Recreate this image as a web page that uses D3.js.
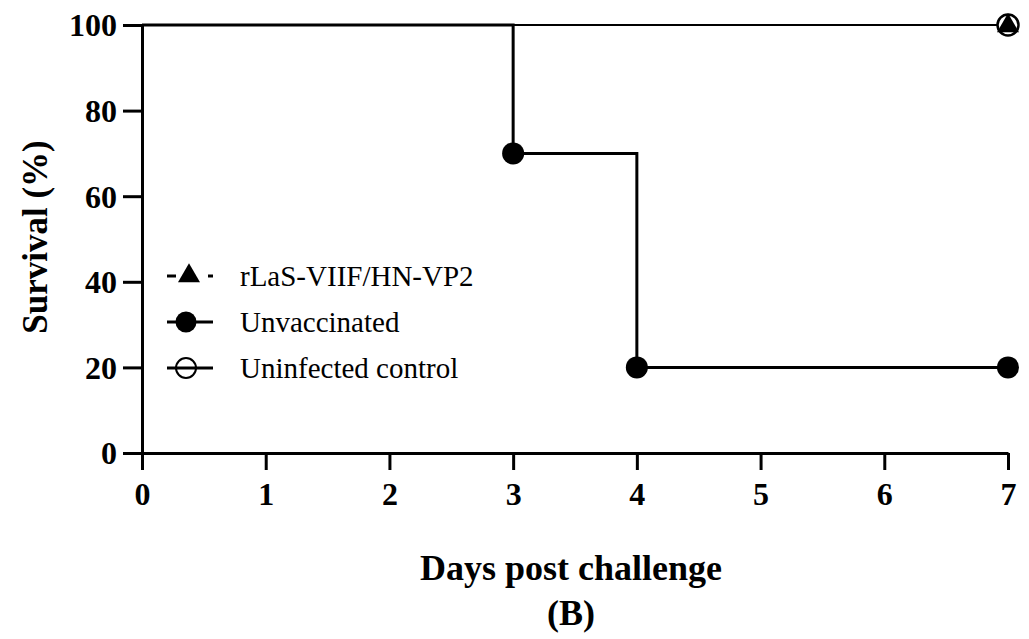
<!DOCTYPE html>
<html>
<head>
<meta charset="utf-8">
<script src="https://cdn.jsdelivr.net/npm/d3@7"></script>
<style>
  body { margin: 0; background: #fff; }
  svg { display: block; }
</style>
</head>
<body>
<svg id="chart"></svg>
<script>
// survival data (step curves)
var days = [0, 1, 2, 3, 4, 5, 6, 7];
var yTicks = [0, 20, 40, 60, 80, 100];
var seriesNames = ["rLaS-VIIF/HN-VP2", "Unvaccinated", "Uninfected control"];
var vaccDays = [0, 7], vaccSurv = [100, 100];
var unvDays = [0, 3, 4, 7], unvSurv = [100, 70, 20, 20];
var ctrlDays = [0, 7], ctrlSurv = [100, 100];
// days where a symbol is drawn
var vaccMarks = [7], unvMarks = [3, 4, 7], ctrlMarks = [7];

var svgWidth = 1029, svgHeight = 639;
var margin = { top: 25, right: 21, bottom: 186, left: 142 };
var width = svgWidth - margin.left - margin.right;
var height = svgHeight - margin.top - margin.bottom;

var svg = d3.select("#chart").attr("width", svgWidth).attr("height", svgHeight);
var g = svg.append("g").attr("transform", "translate(" + margin.left + "," + margin.top + ")");

var x = d3.scaleLinear().domain([0, 7]).range([0, width]);
var y = d3.scaleLinear().domain([0, 100]).range([height, 0]);

function pts(ds, vs) { return ds.map(function(d, i) { return { day: d, value: vs[i] }; }); }
function markPts(ds, vs, marks) {
  return marks.map(function(m) {
    var idx = d3.bisectRight(ds, m) - 1;
    return { day: m, value: vs[idx] };
  });
}

var line = d3.line().curve(d3.curveStepAfter)
  .x(function(d) { return x(d.day); })
  .y(function(d) { return y(d.value); });

// axes
var xAxis = g.append("g").attr("transform", "translate(0," + height + ")")
  .call(d3.axisBottom(x).tickValues(days).tickFormat(d3.format("d")).tickSize(17).tickSizeOuter(0));
var yAxis = g.append("g")
  .call(d3.axisLeft(y).tickValues(yTicks).tickSize(19).tickSizeOuter(0));

[xAxis, yAxis].forEach(function(a) {
  a.select(".domain").attr("stroke", "#000").attr("stroke-width", 3);
  a.selectAll(".tick line").attr("stroke", "#000").attr("stroke-width", 3);
  a.selectAll(".tick text").attr("fill", "#000")
    .style("font-family", "'Liberation Serif', serif")
    .style("font-weight", "bold").style("font-size", "32px");
});
xAxis.selectAll(".tick text").attr("dy", "0.95em").attr("y", 22);
yAxis.selectAll(".tick text").attr("x", -25).attr("dy", "0.34em");

// lines
g.append("path").datum(pts(unvDays, unvSurv))
  .attr("fill", "none").attr("stroke", "#000").attr("stroke-width", 3)
  .attr("d", line);
g.append("path").datum(pts(vaccDays, vaccSurv))
  .attr("fill", "none").attr("stroke", "#000").attr("stroke-width", 2)
  .attr("d", line);
g.append("path").datum(pts(ctrlDays, ctrlSurv))
  .attr("fill", "none").attr("stroke", "#000").attr("stroke-width", 2)
  .attr("d", line);

var tri = d3.symbol().type(d3.symbolTriangle).size(210);

// markers
g.selectAll(".unv").data(markPts(unvDays, unvSurv, unvMarks)).enter().append("circle")
  .attr("cx", function(d) { return x(d.day); })
  .attr("cy", function(d) { return y(d.value); })
  .attr("r", 11).attr("fill", "#000");
g.selectAll(".ctrl").data(markPts(ctrlDays, ctrlSurv, ctrlMarks)).enter().append("circle")
  .attr("cx", function(d) { return x(d.day); })
  .attr("cy", function(d) { return y(d.value); })
  .attr("r", 10.5).attr("fill", "#fff").attr("stroke", "#000").attr("stroke-width", 2.5);
g.selectAll(".vacc").data(markPts(vaccDays, vaccSurv, vaccMarks)).enter().append("path")
  .attr("transform", function(d) { return "translate(" + x(d.day) + "," + (y(d.value) + 1) + ")"; })
  .attr("d", tri).attr("fill", "#000");

// legend
var legend = svg.append("g").attr("transform", "translate(167,276)");
var rowGap = 46;
seriesNames.forEach(function(name, i) {
  var row = legend.append("g").attr("transform", "translate(0," + (i * rowGap) + ")");
  if (i === 0) {
    row.append("line").attr("x1", 0).attr("x2", 9).attr("y1", 0).attr("y2", 0)
      .attr("stroke", "#000").attr("stroke-width", 3);
    row.append("line").attr("x1", 41).attr("x2", 46).attr("y1", 0).attr("y2", 0)
      .attr("stroke", "#000").attr("stroke-width", 3);
    row.append("path").attr("transform", "translate(22,0)").attr("d", tri).attr("fill", "#000");
  } else if (i === 1) {
    row.append("line").attr("x1", 0).attr("x2", 46).attr("y1", 0).attr("y2", 0)
      .attr("stroke", "#000").attr("stroke-width", 3);
    row.append("circle").attr("cx", 19).attr("cy", 0).attr("r", 10.5).attr("fill", "#000");
  } else {
    row.append("circle").attr("cx", 19).attr("cy", 0).attr("r", 10)
      .attr("fill", "#fff").attr("stroke", "#000").attr("stroke-width", 2);
    row.append("line").attr("x1", 0).attr("x2", 46).attr("y1", 0).attr("y2", 0)
      .attr("stroke", "#000").attr("stroke-width", 3);
  }
  row.append("text").attr("x", 73).attr("y", 0).attr("dy", "0.35em")
    .style("font-family", "'Liberation Serif', serif").style("font-size", "29px")
    .attr("fill", "#000").text(name);
});

// axis titles
svg.append("text")
  .attr("transform", "translate(47,237) rotate(-90)")
  .attr("text-anchor", "middle")
  .style("font-family", "'Liberation Serif', serif").style("font-weight", "bold").style("font-size", "35px")
  .text("Survival (%)");
svg.append("text")
  .attr("x", 571).attr("y", 580).attr("text-anchor", "middle")
  .style("font-family", "'Liberation Serif', serif").style("font-weight", "bold").style("font-size", "36px")
  .text("Days post challenge");
svg.append("text")
  .attr("x", 571).attr("y", 625).attr("text-anchor", "middle")
  .style("font-family", "'Liberation Serif', serif").style("font-weight", "bold").style("font-size", "36px")
  .text("(B)");
</script>
</body>
</html>
